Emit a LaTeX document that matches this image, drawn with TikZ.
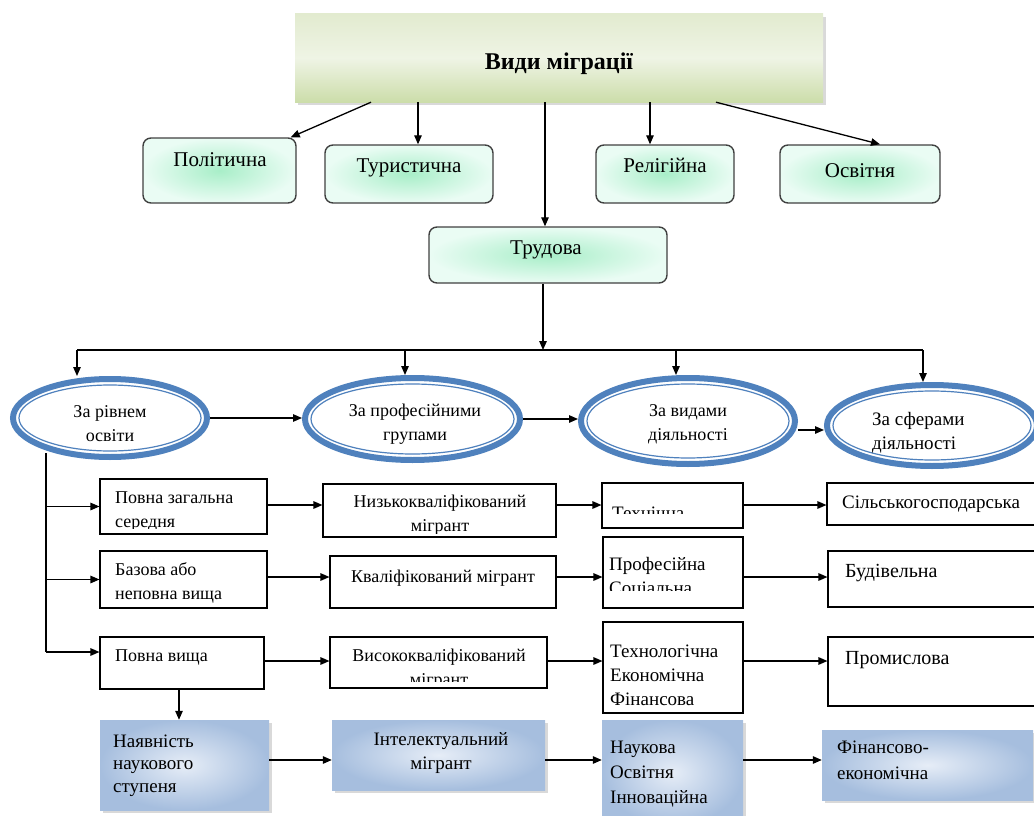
\documentclass[tikz,border=0pt]{standalone}
\usepackage{fontspec}
\setmainfont{Liberation Serif}
\usetikzlibrary{arrows.meta,shapes.geometric,shadows,fit,calc}

\definecolor{topborder}{HTML}{404040}
\definecolor{mintin}{HTML}{A8EEC8}
\definecolor{mintout}{HTML}{EAFCF4}
\definecolor{ringblue}{HTML}{4F81BD}
\definecolor{bluein}{HTML}{E6EDF7}
\definecolor{blueout}{HTML}{A6BEDE}
\definecolor{greentop}{HTML}{E2EBCF}
\definecolor{greenmid}{HTML}{EFF4E5}
\definecolor{greenbot}{HTML}{CCDDAA}

\newcommand\mlL[1]{\begin{tabular}[t]{@{}l@{}}#1\end{tabular}}
\newcommand\mlC[1]{\begin{tabular}[t]{@{}c@{}}#1\end{tabular}}

\tikzset{
  titlebox/.style={inner sep=0pt, top color=greentop, bottom color=greenbot, middle color=greenmid,
    drop shadow={shadow xshift=3pt, shadow yshift=-3pt, opacity=0.3}},
  topbox/.style={inner sep=0pt, draw=topborder, line width=1.4pt, rounded corners=8pt,
    inner color=mintin, outer color=mintout},
  ell/.style={ellipse, draw=ringblue, line width=6pt, fill=white, inner sep=0pt},
  ringin/.style={draw=ringblue, line width=1.2pt},
  wbox/.style={inner sep=0pt, draw=black, line width=1.1pt, fill=white},
  bbox/.style={inner sep=0pt, inner color=bluein, outer color=blueout,
    drop shadow={shadow xshift=3pt, shadow yshift=-3pt, opacity=0.3}},
  lbl/.style={inner sep=0pt, font=\fontsize{18}{24.5}\selectfont},
  lbln/.style={inner sep=0pt, font=\fontsize{19}{24.5}\selectfont},
  lbltop/.style={inner sep=0pt, font=\fontsize{21}{25}\selectfont},
  ln/.style={line width=1.3pt},
  arr/.style={line width=1.3pt, -{Triangle[length=9pt,width=7.5pt]}},
}

\begin{document}
\begin{tikzpicture}[x=1pt,y=-1pt]
\useasboundingbox (0,0) rectangle (1034,816);

% ---------- title ----------
\node[titlebox, fit={(295,14) (823,102)}] (title) {};
\node[anchor=base, inner sep=0pt, font=\fontsize{24}{28}\selectfont\bfseries] (t-title) at (559,70) {Види міграції};

% ---------- top boxes ----------
\node[topbox, fit={(143,138) (296,203)}] (pol) {};
\node[topbox, fit={(325,145) (493,203)}] (tur) {};
\node[topbox, fit={(596,145) (734,203)}] (rel) {};
\node[topbox, fit={(780,145) (940,203)}] (osv) {};
\node[topbox, fit={(429,227) (667,283)}] (trud) {};
\node[lbltop, anchor=base] (t-pol) at (220,166) {Політична};
\node[lbltop, anchor=base] (t-tur) at (409,172) {Туристична};
\node[lbltop, anchor=base] (t-rel) at (665,172) {Релігійна};
\node[lbltop, anchor=base] (t-osv) at (860,177) {Освітня};
\node[lbltop, anchor=base] (t-trud) at (546,254) {Трудова};

\coordinate (ts1) at ([xshift=-188pt]title.south);
\coordinate (ts2) at ([xshift=-141pt]title.south);
\coordinate (ts3) at ([xshift=-14pt]title.south);
\coordinate (ts4) at ([xshift=91pt]title.south);
\coordinate (ts5) at ([xshift=157pt]title.south);
\draw[arr] (ts1) -- ([xshift=-6pt]pol.north east);
\draw[arr] (ts2) -- (ts2 |- tur.north);
\draw[arr] (ts3) -- (ts3 |- trud.north);
\draw[arr] (ts4) -- (ts4 |- rel.north);
\draw[arr] (ts5) -- ([xshift=20pt]osv.north);

% ---------- ellipses ----------
\node[ell, minimum width=194pt, minimum height=78pt] (e1) at (110,418) {};
\node[ell, minimum width=215pt, minimum height=82pt] (e2) at (412.5,419) {};
\node[ell, minimum width=214pt, minimum height=86pt] (e3) at (688,421) {};
\node[ell, minimum width=210pt, minimum height=81pt] (e4) at (932,425.5) {};
\draw[ringin] (e1.center) ellipse [x radius=91pt, y radius=33pt];
\draw[ringin] (e2.center) ellipse [x radius=101.5pt, y radius=35pt];
\draw[ringin] (e3.center) ellipse [x radius=101pt, y radius=37pt];
\draw[ringin] (e4.center) ellipse [x radius=99pt, y radius=34.5pt];
\node[lbl, anchor=base] (t-e1) at (110,417) {\mlC{За рівнем\\освіти}};
\node[lbl, anchor=base] (t-e2) at (415,416) {\mlC{За професійними\\групами}};
\node[lbl, anchor=base] (t-e3) at (688,416) {\mlC{За видами\\діяльності}};
\node[lbln, anchor=base west] (t-e4) at (872,425) {\mlL{За сферами\\діяльності}};

% bus from Трудова
\coordinate (busm) at (543,350);
\coordinate (bus1) at (77,350);
\coordinate (bus2) at (405,350);
\coordinate (bus3) at (676,350);
\coordinate (bus4) at (923,350);
\draw[arr] (busm |- trud.south) -- (busm);
\draw[ln] (bus1) -- (bus4);
\draw[arr] (bus1) -- (bus1 |- e1.north);
\draw[arr] (bus2) -- (bus2 |- e2.north);
\draw[arr] (bus3) -- (bus3 |- e3.north);
\draw[arr] (bus4) -- (bus4 |- e4.north);

\coordinate (ry3) at (0,430);
\draw[arr] (e1.east) -- (e1.east -| e2.west);
\draw[arr] (e2.east) -- (e2.east -| e3.west);
\draw[arr] (e3.east |- ry3) -- (e4.west |- ry3);

% ---------- white boxes ----------
\node[wbox, fit={(100,479) (267,534)}] (b11) {};
\node[wbox, fit={(100,551) (267,608)}] (b12) {};
\node[wbox, fit={(100,637) (264,689)}] (b13) {};
\node[wbox, fit={(323,484) (556,537)}] (b21) {};
\node[wbox, fit={(330,556) (556,608)}] (b22) {};
\node[wbox, fit={(330,637) (547,688)}] (b23) {};
\node[wbox, fit={(602,483) (743,528)}] (b31) {};
\node[wbox, fit={(603,537) (743,608)}] (b32) {};
\node[wbox, fit={(603,622) (743,713)}] (b33) {};
\node[wbox, fit={(827,483) (1037,525)}] (b41) {};
\node[wbox, fit={(828,551) (1037,607)}] (b42) {};
\node[wbox, fit={(828,637) (1037,706)}] (b43) {};

\begin{scope}
  \clip (100,479) rectangle (267,528.5);
  \node[lbl, anchor=base west] (t-b11) at (115,503) {\mlL{Повна загальна\\середня}};
\end{scope}
\node[lbl, anchor=base west] (t-b12) at (115,575) {\mlL{Базова або\\неповна вища}};
\node[lbl, anchor=base west] (t-b13) at (115,661) {Повна вища};
\begin{scope}
  \clip (323,484) rectangle (556,533);
  \node[lbl, anchor=base] (t-b21) at (440,507) {\mlC{Низькокваліфікований\\мігрант}};
\end{scope}
\node[lbl, anchor=base] (t-b22) at (443,582) {Кваліфікований мігрант};
\begin{scope}
  \clip (330,637) rectangle (547,681);
  \node[lbl, anchor=base] (t-b23) at (439,661) {\mlC{Висококваліфікований\\мігрант}};
\end{scope}
\begin{scope}
  \clip (602,483) rectangle (743,513);
  \node[lbln, anchor=base west] (t-b31) at (612,519) {Технічна};
\end{scope}
\begin{scope}
  \clip (603,537) rectangle (743,590.5);
  \node[lbln, anchor=base west] (t-b32) at (609,570) {\mlL{Професійна\\Соціальна}};
\end{scope}
\node[lbln, anchor=base west, font=\fontsize{19}{24}\selectfont] (t-b33) at (610,657) {\mlL{Технологічна\\Економічна\\Фінансова}};
\node[lbln, anchor=base west] (t-b41) at (842,508) {Сільськогосподарська};
\node[lbl, anchor=base west, font=\fontsize{20}{24}\selectfont] (t-b42) at (845,577) {Будівельна};
\node[lbl, anchor=base west, font=\fontsize{20}{24}\selectfont] (t-b43) at (845,664) {Промислова};

% left trunk
\coordinate (v0) at (46,453);
\coordinate (v3) at (46,652);
\draw[ln] (v0) -- (v3);
\draw[arr] (v0 |- b11.west) -- (b11.west);
\draw[arr] (v0 |- b12.west) -- (b12.west);
\draw[arr] (v3) -- (v3 -| b13.west);

% rows
\coordinate (r1) at (0,505);
\coordinate (r2) at (0,577);
\coordinate (r3) at (0,661);
\coordinate (r4) at (0,760);
\draw[arr] (b11.east |- r1) -- (b21.west |- r1);
\draw[arr] (b21.east |- r1) -- (b31.west |- r1);
\draw[arr] (b31.east |- r1) -- (b41.west |- r1);
\draw[arr] (b12.east |- r2) -- (b22.west |- r2);
\draw[arr] (b22.east |- r2) -- (b32.west |- r2);
\draw[arr] (b32.east |- r2) -- (b42.west |- r2);
\draw[arr] (b13.east |- r3) -- (b23.west |- r3);
\draw[arr] (b23.east |- r3) -- (b33.west |- r3);
\draw[arr] (b33.east |- r3) -- (b43.west |- r3);

% ---------- blue boxes ----------
\node[bbox, fit={(100,720) (269,810)}] (c1) {};
\node[bbox, fit={(332,720) (545,790)}] (c2) {};
\node[bbox, fit={(602,720) (743,825)}] (c3) {};
\node[bbox, fit={(822,730) (1033,800)}] (c4) {};
\node[lbln, anchor=base west, font=\fontsize{19}{22.5}\selectfont] (t-c1) at (113,747) {\mlL{Наявність\\наукового\\ступеня}};
\node[lbln, anchor=base] (t-c2) at (441,745) {\mlC{Інтелектуальний\\мігрант}};
\node[lbln, anchor=base west, font=\fontsize{19}{25}\selectfont] (t-c3) at (610,753) {\mlL{Наукова\\Освітня\\Інноваційна}};
\node[lbln, anchor=base west, font=\fontsize{19}{26}\selectfont] (t-c4) at (837,753) {\mlL{Фінансово-\\економічна}};

\draw[arr] ([xshift=-3pt]b13.south) -- ([xshift=-3pt]b13.south |- c1.north);
\draw[arr] (c1.east |- r4) -- (c2.west |- r4);
\draw[arr] (c2.east |- r4) -- (c3.west |- r4);
\draw[arr] (c3.east |- r4) -- (c4.west |- r4);
\end{tikzpicture}
\end{document}
